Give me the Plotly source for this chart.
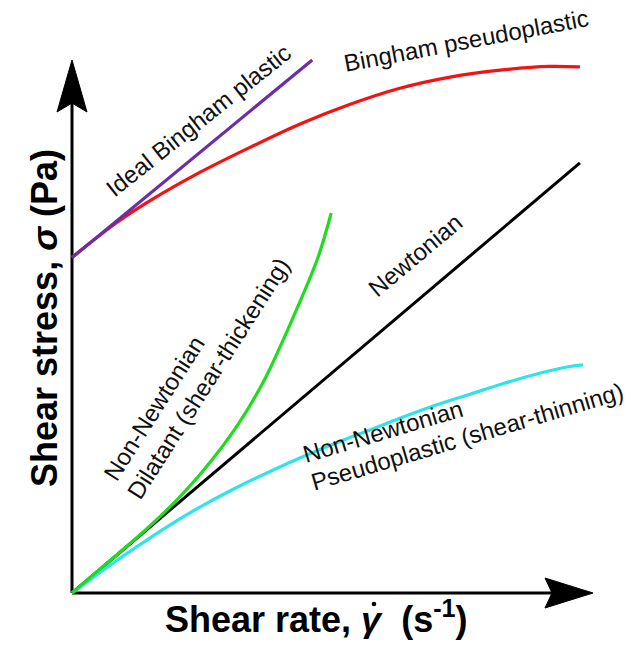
import plotly.graph_objects as go

# ---------------- data (arbitrary units) ----------------
newton_x = [0.0, 9.62]
newton_y = [0.0, 8.07]

ideal_bingham_x = [0.0, 4.55]
ideal_bingham_y = [6.29, 10.0]

bingham_pseudo_x = [0.0, 0.85, 1.48, 2.42, 3.37, 4.32, 5.27, 6.21, 7.16, 8.11, 9.05, 9.62]
bingham_pseudo_y = [6.30, 6.95, 7.36, 7.89, 8.36, 8.80, 9.17, 9.47, 9.68, 9.81, 9.88, 9.87]

dilatant_x = [0.0, 0.59, 1.23, 1.86, 2.48, 3.13, 3.66, 4.28, 4.66, 4.91]
dilatant_y = [0.0, 0.50, 1.04, 1.62, 2.29, 3.14, 4.03, 5.38, 6.30, 7.13]

pseudo_x = [0.0, 0.59, 1.23, 1.86, 2.49, 3.12, 3.75, 4.38, 5.01, 5.64, 6.27, 6.91,
            7.54, 8.17, 8.80, 9.43, 9.68]
pseudo_y = [0.0, 0.43, 0.87, 1.28, 1.65, 1.98, 2.28, 2.56, 2.82, 3.06, 3.30, 3.53,
            3.73, 3.93, 4.11, 4.25, 4.28]

# ---------------- layout geometry ----------------
W, H = 637, 653
OX, OY = 72, 593          # pixel position of the origin
PAD = 24                  # room around the origin so arrows are not clipped
ML, MR, MT, MB = OX - PAD, 17, 30, H - OY - PAD
PW, PH = W - ML - MR, H - MT - MB
PX_X = 52.8   # pixels per x unit
PX_Y = 53.3   # pixels per y unit
X_TIP_PX = 593   # axis arrow tips (pixels)
Y_TIP_PX = 60

FONT = "Liberation Sans, Arial, Helvetica, sans-serif"

def dx(px):
    return (px - OX) / PX_X

def dy(py):
    return (OY - py) / PX_Y

fig = go.Figure()

# ---------------- axes with arrows ----------------
axis_style = dict(mode="lines", showlegend=False, hoverinfo="skip", cliponaxis=False)
fig.add_trace(go.Scatter(x=[0, 0], y=[0, dy(Y_TIP_PX + 42)],
                         line=dict(color="black", width=3), **axis_style))
fig.add_trace(go.Scatter(x=[0, dx(X_TIP_PX - 40)], y=[0, 0],
                         line=dict(color="black", width=3), **axis_style))
# arrow heads
fig.add_trace(go.Scatter(
    x=[dx(OX), dx(OX - 15), dx(OX), dx(OX + 15), dx(OX)],
    y=[dy(Y_TIP_PX), dy(Y_TIP_PX + 52), dy(Y_TIP_PX + 43), dy(Y_TIP_PX + 52), dy(Y_TIP_PX)],
    fill="toself", fillcolor="black", line=dict(color="black", width=1), **axis_style))
fig.add_trace(go.Scatter(
    x=[dx(X_TIP_PX), dx(X_TIP_PX - 48), dx(X_TIP_PX - 41), dx(X_TIP_PX - 48), dx(X_TIP_PX)],
    y=[dy(OY), dy(OY - 15), dy(OY), dy(OY + 15), dy(OY)],
    fill="toself", fillcolor="black", line=dict(color="black", width=1), **axis_style))

# ---------------- curves ----------------
def add_curve(x, y, color, width=3.2, shape="spline"):
    fig.add_trace(go.Scatter(x=x, y=y, mode="lines",
                             line=dict(color=color, width=width, shape=shape, smoothing=0.9),
                             cliponaxis=False, showlegend=False, hoverinfo="skip"))

add_curve(newton_x, newton_y, "#000000", 3, "linear")
add_curve(pseudo_x, pseudo_y, "#2ee3ea")
add_curve(dilatant_x, dilatant_y, "#1fdc1f")
add_curve(bingham_pseudo_x, bingham_pseudo_y, "#f01414")
add_curve(ideal_bingham_x, ideal_bingham_y, "#6a2fa8", 3.2, "linear")

# ---------------- labels ----------------
def px2paper(px, py):
    return (px - ML) / PW, ((H - MB) - py) / PH

dot = px2paper(374, 604)
shapes = [
    # dot of the gamma-dot symbol
    dict(type="circle", xref="paper", yref="paper",
         x0=dot[0] - 2.3 / PW, x1=dot[0] + 2.3 / PW,
         y0=dot[1] - 2.3 / PH, y1=dot[1] + 2.3 / PH,
         fillcolor="black", line=dict(width=0)),
]

def label(text, px, py, angle, size=24):
    xp, yp = px2paper(px, py)
    return dict(text=text, x=xp, y=yp, xref="paper", yref="paper", showarrow=False,
                textangle=angle, xanchor="center", yanchor="middle",
                font=dict(family=FONT, size=size, color="#111111"))

annotations = [
    label("Ideal Bingham plastic", 198, 120, -38.5),
    label("Bingham pseudoplastic", 466, 40, -10.7),
    label("Newtonian", 415, 256, -40),
    label("Non-Newtonian", 154, 409, -57.5),
    label("Dilatant (shear-thickening)", 208, 378, -57.5),
    label("Non-Newtonian", 382, 431, -16.5),
    label("Pseudoplastic (shear-thinning)", 467, 436, -16.5),
]

xt = px2paper(316, 617)
annotations.append(dict(text="<b>Shear rate, <i>γ</i>  (s<sup>-1</sup>)</b>",
                        x=xt[0], y=xt[1], xref="paper", yref="paper", showarrow=False,
                        xanchor="center", yanchor="middle",
                        font=dict(family=FONT, size=36, color="black")))
yt = px2paper(44, 318)
annotations.append(dict(text="<b>Shear stress, <i>σ</i> (Pa)</b>",
                        x=yt[0], y=yt[1], xref="paper", yref="paper", showarrow=False,
                        textangle=-90, xanchor="center", yanchor="middle",
                        font=dict(family=FONT, size=36, color="black")))

fig.update_layout(
    width=W, height=H,
    margin=dict(l=ML, r=MR, t=MT, b=MB, pad=0),
    paper_bgcolor="white", plot_bgcolor="white",
    xaxis=dict(range=[-PAD / PX_X, (PW - PAD) / PX_X], visible=False, fixedrange=True),
    yaxis=dict(range=[-PAD / PX_Y, (PH - PAD) / PX_Y], visible=False, fixedrange=True),
    shapes=shapes, annotations=annotations, showlegend=False,
)

fig.write_html("out.html")
